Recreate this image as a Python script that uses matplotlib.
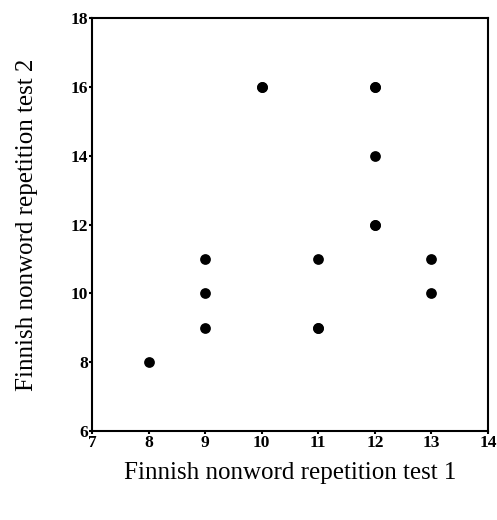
import matplotlib
matplotlib.use("Agg")
import matplotlib.pyplot as plt

# Finnish nonword repetition scores (duplicates kept)
test1 = [8, 9, 9, 9, 10, 10, 11, 11, 11, 12, 12, 12, 12, 12, 13, 13]
test2 = [8, 9, 10, 11, 16, 16, 9, 9, 11, 12, 12, 14, 16, 16, 10, 11]

xticks = [7, 8, 9, 10, 11, 12, 13, 14]
yticks = [6, 8, 10, 12, 14, 16, 18]

plt.rcParams['font.family'] = ['Liberation Serif', 'DejaVu Serif']

fig = plt.figure(figsize=(4.97, 5.2), dpi=100)
ax = fig.add_axes([0.185, 0.171, 0.797, 0.794])
ax.scatter(test1, test2, s=60, c='black', marker='o', linewidths=0, zorder=3)

ax.set_xlim(7, 14)
ax.set_ylim(6, 18)
ax.set_xticks(xticks)
ax.set_yticks(yticks)
ax.tick_params(direction='out', length=2, width=1.5, labelsize=12.5, pad=1)
for lab in ax.get_xticklabels() + ax.get_yticklabels():
    lab.set_fontweight('bold')
for sp in ax.spines.values():
    sp.set_linewidth(1.5)

ax.set_xlabel('Finnish nonword repetition test 1', fontsize=18, labelpad=8)
ax.set_ylabel('Finnish nonword repetition test 2', fontsize=18, labelpad=23)

fig.savefig('out.png', dpi=100)
